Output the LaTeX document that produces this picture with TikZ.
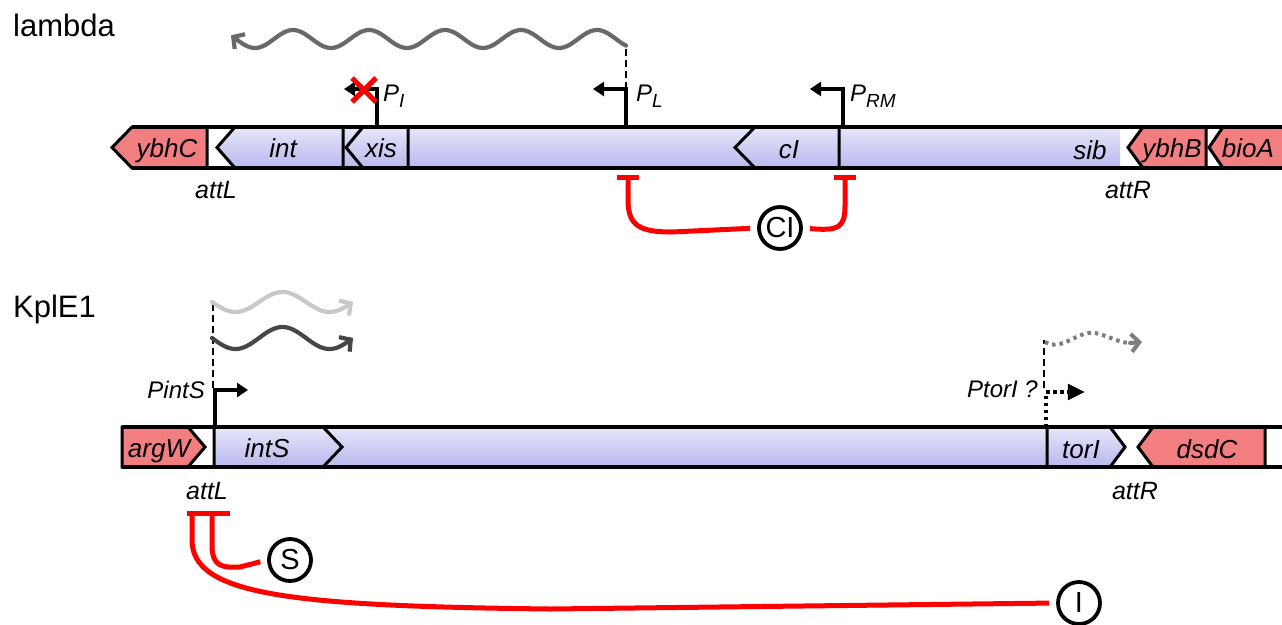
\documentclass[tikz,border=0pt]{standalone}
\usepackage{fontspec}
\setmainfont{Liberation Sans}
\usetikzlibrary{arrows.meta,calc}

\definecolor{genepink}{RGB}{243,126,128}
\definecolor{lavtop}{RGB}{230,230,250}
\definecolor{lavbot}{RGB}{184,184,238}
\definecolor{rnadark}{RGB}{70,70,70}
\definecolor{rnamid}{RGB}{105,105,105}
\definecolor{rnalight}{RGB}{200,200,200}
\definecolor{rnadot}{RGB}{125,125,125}
\definecolor{repred}{RGB}{255,0,0}

% promoter label with lowered subscript
\newcommand\plab[2]{\textit{#1}\raisebox{-6pt}{\fontsize{19}{19}\selectfont\textit{#2}}}

\tikzset{
  lav/.style={top color=lavtop,bottom color=lavbot},
  genebox/.style={draw=black,line width=3pt,line join=miter},
  barline/.style={draw=black,line width=3.2pt},
  genelabel/.style={font=\fontsize{26}{30}\selectfont\itshape,anchor=base,inner sep=0pt},
  sitelabel/.style={font=\fontsize{25}{30}\selectfont\itshape,anchor=base,inner sep=0pt},
  promlabel/.style={font=\fontsize{24}{28}\selectfont,anchor=base west,inner sep=0pt},
  title/.style={font=\fontsize{31}{36}\selectfont,anchor=base west,inner sep=0pt},
  promline/.style={draw=black,line width=4pt,line join=miter,-{Triangle[length=11pt,width=14pt]}},
  promdotted/.style={draw=black,line width=4pt,dash pattern=on 3.5pt off 3.5pt},
  guide/.style={draw=black,line width=2pt,dash pattern=on 7pt off 4pt},
  rnawave/.style={line width=4.2pt,line cap=round,-{Straight Barb[length=8pt,width=18pt,line width=4.2pt]}},
  repress/.style={draw=repred,line width=5pt},
  tbar/.style={draw=repred,line width=5pt},
  regnode/.style={circle,draw=black,line width=3.8pt,fill=white,minimum size=42pt,inner sep=0pt,font=\fontsize{29}{30}\selectfont},
  knockout/.style={draw=repred,line width=5pt},
}

\begin{document}
\begin{tikzpicture}[x=1pt,y=-1pt]
\useasboundingbox (0,0) rectangle (1282,624);

% ---------------- lambda prophage ----------------
\node[title] (lambda) at (13,36) {lambda};

% lavender body of the prophage
\fill[lav] (343,127) rectangle (1120,168);
% genes
\draw[genebox,lav] (217,147.5) -- (235,127) -- (343,127) -- (343,168) -- (235,168) -- cycle;
\draw[genebox,lav] (346,147.5) -- (363,127) -- (408,127) -- (408,168) -- (363,168) -- cycle;
\draw[genebox,lav] (735,147.5) -- (755,127) -- (839,127) -- (839,168) -- (755,168) -- cycle;
\draw[genebox,fill=genepink] (112,147.5) -- (132,127) -- (207,127) -- (207,168) -- (132,168) -- cycle;
\draw[genebox,fill=genepink] (1128,147.5) -- (1143,127) -- (1206,127) -- (1206,168) -- (1143,168) -- cycle;
\draw[genebox,fill=genepink] (1209,147.5) -- (1223,127) -- (1290,127) -- (1290,168) -- (1223,168) -- cycle;
% chromosome edges
\draw[barline] (132,127) -- (1290,127);
\draw[barline] (132,168) -- (1290,168);

\node[genelabel] (ybhC) at (167,157) {ybhC};
\node[genelabel] (int)  at (283,157) {int};
\node[genelabel] (xis)  at (381,157) {xis};
\node[genelabel] (cI)   at (789,158) {cI};
\node[genelabel] (sib)  at (1090,159) {sib};
\node[genelabel] (ybhB) at (1172,157) {ybhB};
\node[genelabel] (bioA) at (1248,157) {bioA};
\node[sitelabel] (attLl) at (216,198) {attL};
\node[sitelabel] (attRl) at (1128,198) {attR};

% promoters
\coordinate (PIb) at (377,127);  \coordinate (PIt) at (344,89);
\coordinate (PLb) at (626,127);  \coordinate (PLt) at (593,89);
\coordinate (PRb) at (843,127);  \coordinate (PRt) at (810,89);
\draw[promline] (PIb) |- (PIt);
\draw[promline] (PLb) |- (PLt);
\draw[promline] (PRb) |- (PRt);
\draw[knockout] (352,78) -- (376,102) (352,102) -- (376,78);
\node[promlabel] (PI) at (383,101) {\plab{P}{I}};
\node[promlabel] (PL) at (636,101) {\plab{P}{L}};
\node[promlabel] (PRM) at (850,101) {\plab{P}{RM}};

% leftward transcript from PL
\coordinate (PLtop) at (626,44);
\draw[guide] (626,89) -- (PLtop);
\draw[rnawave,draw=rnamid] plot[domain=626:231,samples=160,smooth] (\x,{39-9*cos(((\x-597)/76)*360)});

% CI repression of PL and PRM
\node[regnode] (CI) at (780,228) {CI};
\draw[tbar] (617,177) -- (639,177);
\draw[tbar] (834,177) -- (856,177);
\draw[repress,shorten >=7pt] (628,177) -- (628,200) .. controls (628,226) and (640,232) .. (672,232) -- (CI.west);
\draw[repress,shorten >=7pt] (845,177) -- (845,206) .. controls (845,228) and (838,231) .. (CI.east);

% ---------------- KplE1 prophage ----------------
\node[title] (kple) at (13,317) {KplE1};

\fill[lav] (214,427) rectangle (1047,467);
\draw[genebox,lav] (214,427) -- (323,427) -- (342,447) -- (323,467) -- (214,467) -- cycle;
\draw[genebox,lav] (1047,427) -- (1110,427) -- (1125,447) -- (1110,467) -- (1047,467) -- cycle;
\draw[genebox,fill=genepink] (122,427) -- (188,427) -- (205,447) -- (188,467) -- (122,467) -- cycle;
\draw[genebox,fill=genepink] (1138,447) -- (1153,427) -- (1265,427) -- (1265,467) -- (1153,467) -- cycle;
\draw[barline] (122,427) -- (1290,427);
\draw[barline] (122,467) -- (1290,467);

\node[genelabel] (argW) at (159,457) {argW};
\node[genelabel] (intS) at (267,457) {intS};
\node[genelabel] (torI) at (1081,458) {torI};
\node[genelabel] (dsdC) at (1207,458) {dsdC};
\node[sitelabel] (attLk) at (207,499) {attL};
\node[sitelabel] (attRk) at (1135,499) {attR};

% PintS and its transcripts
\coordinate (PSb) at (215,427); \coordinate (PSt) at (248,390);
\draw[promline] (PSb) |- (PSt);
\node[promlabel,anchor=base east] (PintS) at (205,398) {\textit{PintS}};
\draw[guide] (212.5,388) -- (212.5,300);
\draw[rnawave,draw=rnalight] plot[domain=212:353,samples=80,smooth] (\x,{302+10*sin(((\x-212)/94)*360)});
\draw[rnawave,draw=rnadark] plot[domain=212:353,samples=80,smooth] (\x,{338+11*sin(((\x-212)/94)*360)});

% putative PtorI
\coordinate (PTb) at (1046,427); \coordinate (PTc) at (1046,392); \coordinate (PTt) at (1084,392);
\draw[promdotted] (PTb) -- (PTc) -- (1068,392);
\draw[draw=black,fill=black] (1068,384) -- (PTt) -- (1068,400) -- cycle;
\node[promlabel,anchor=base east] (PtorI) at (1038,397) {\textit{PtorI ?}};
\draw[guide] (1043.5,388) -- (1043.5,340);
\draw[draw=rnadot,line width=4pt,dash pattern=on 3.5pt off 4pt]
  (1045,342) .. controls (1062,352) and (1078,330) .. (1095,333) .. controls (1110,336) and (1120,344) .. (1134,343);
\draw[draw=rnadot,line width=4pt,line cap=round,-{Straight Barb[length=8pt,width=18pt,line width=4pt]}] (1130,343) -- (1142,342);

% repression at attL by S and I
\node[regnode] (S) at (290,560) {S};
\node[regnode] (I) at (1079,603) {I};
\draw[tbar] (187,513) -- (230,513);
\draw[repress,shorten >=7pt] (212,513) -- (212,548) .. controls (213,566) and (222,568) .. (240,567) -- (S.west);
\draw[repress,shorten >=7pt] (192,513) -- (192,540) .. controls (192,595) and (290,606) .. (550,609) -- (I.west);

\end{tikzpicture}
\end{document}
